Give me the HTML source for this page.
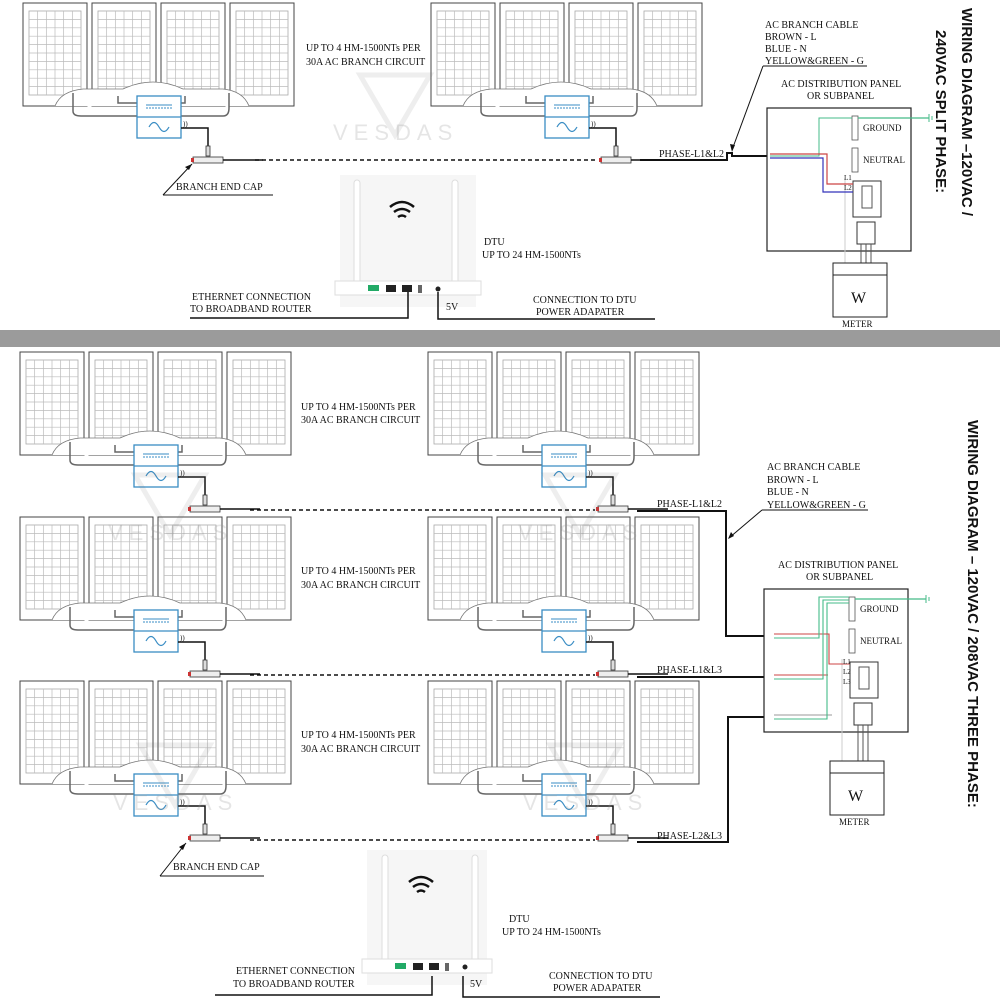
<!DOCTYPE html>
<html><head><meta charset="utf-8">
<style>
html,body{margin:0;padding:0;background:#fff;}
svg{display:block;}
text{font-family:"Liberation Serif",serif;fill:#111;}
.t{font-size:10px;}
.ti{font-family:"Liberation Sans",sans-serif;font-weight:bold;font-size:15px;}
</style></head>
<body>
<svg id="s" width="1000" height="1000" viewBox="0 0 1000 1000" xmlns="http://www.w3.org/2000/svg">
<rect x="0" y="330" width="1000" height="17" fill="#9b9b9b"/>
<g id="g"></g>

<text class="t" x="306" y="51">UP TO 4 HM-1500NTs PER</text>
<text class="t" x="306" y="65">30A AC BRANCH CIRCUIT</text>
<text class="t" x="176" y="190">BRANCH END CAP</text>
<line x1="163" y1="195" x2="273" y2="195" stroke="#111"/>
<line x1="163" y1="195" x2="192" y2="164" stroke="#111"/>
<path d="M192 164 l-7 3 l4 3z" fill="#111"/>
<text class="t" x="484" y="245">DTU</text>
<text class="t" x="482" y="258">UP TO 24 HM-1500NTs</text>
<text class="t" x="192" y="300">ETHERNET CONNECTION</text>
<text class="t" x="190" y="312">TO BROADBAND ROUTER</text>
<text class="t" x="533" y="303">CONNECTION TO DTU</text>
<text class="t" x="536" y="315">POWER ADAPATER</text>
<text class="t" x="446" y="310">5V</text>
<text class="t" x="659" y="157">PHASE-L1&amp;L2</text>
<text class="t" x="765" y="28">AC BRANCH CABLE</text>
<text class="t" x="765" y="40">BROWN - L</text>
<text class="t" x="765" y="52">BLUE - N</text>
<text class="t" x="765" y="64">YELLOW&amp;GREEN - G</text>
<line x1="763" y1="66" x2="867" y2="66" stroke="#111"/>
<line x1="763" y1="66" x2="732" y2="150" stroke="#111"/>
<path d="M732 152 l-2 -8 l5 1z" fill="#111"/>
<text class="t" x="781" y="87">AC DISTRIBUTION PANEL</text>
<text class="t" x="807" y="99">OR SUBPANEL</text>
<text class="ti" transform="translate(962,8) rotate(90)">WIRING DIAGRAM –120VAC /</text>
<text class="ti" transform="translate(936,30) rotate(90)">240VAC SPLIT PHASE:</text>

<text class="t" x="301" y="410">UP TO 4 HM-1500NTs PER</text>
<text class="t" x="301" y="423">30A AC BRANCH CIRCUIT</text>
<text class="t" x="301" y="574">UP TO 4 HM-1500NTs PER</text>
<text class="t" x="301" y="588">30A AC BRANCH CIRCUIT</text>
<text class="t" x="301" y="738">UP TO 4 HM-1500NTs PER</text>
<text class="t" x="301" y="752">30A AC BRANCH CIRCUIT</text>
<text class="t" x="173" y="870">BRANCH END CAP</text>
<line x1="160" y1="876" x2="264" y2="876" stroke="#111"/>
<line x1="160" y1="876" x2="186" y2="843" stroke="#111"/>
<path d="M186 843 l-7 4 l4 3z" fill="#111"/>
<text class="t" x="509" y="922">DTU</text>
<text class="t" x="502" y="935">UP TO 24 HM-1500NTs</text>
<text class="t" x="236" y="974">ETHERNET CONNECTION</text>
<text class="t" x="233" y="987">TO BROADBAND ROUTER</text>
<text class="t" x="549" y="979">CONNECTION TO DTU</text>
<text class="t" x="553" y="991">POWER ADAPATER</text>
<text class="t" x="470" y="987">5V</text>
<text class="t" x="657" y="507">PHASE-L1&amp;L2</text>
<text class="t" x="657" y="673">PHASE-L1&amp;L3</text>
<text class="t" x="657" y="839">PHASE-L2&amp;L3</text>
<text class="t" x="767" y="470">AC BRANCH CABLE</text>
<text class="t" x="767" y="483">BROWN - L</text>
<text class="t" x="767" y="495">BLUE - N</text>
<text class="t" x="767" y="508">YELLOW&amp;GREEN - G</text>
<line x1="762" y1="510" x2="868" y2="510" stroke="#111"/>
<line x1="762" y1="510" x2="729" y2="538" stroke="#111"/>
<path d="M728 539 l3 -7 l3 4z" fill="#111"/>
<text class="t" x="778" y="568">AC DISTRIBUTION PANEL</text>
<text class="t" x="806" y="580">OR SUBPANEL</text>
<text class="ti" transform="translate(968,420) rotate(90)">WIRING DIAGRAM – 120VAC / 208VAC THREE PHASE:</text>
</svg>
<script>
var G=document.getElementById("g"),h="";
function panel(x,y){
 h+='<rect x="'+x+'" y="'+y+'" width="64" height="103" fill="#fff" stroke="#444" stroke-width="1"/>';
 var ix=x+6,iy=y+8,w=52,hh=84;
 h+='<rect x="'+ix+'" y="'+iy+'" width="'+w+'" height="'+hh+'" fill="none" stroke="#aaa" stroke-width="0.8"/>';
 for(var i=1;i<6;i++)h+='<line x1="'+(ix+w*i/6)+'" y1="'+iy+'" x2="'+(ix+w*i/6)+'" y2="'+(iy+hh)+'" stroke="#bbb" stroke-width="0.7"/>';
 for(var j=1;j<10;j++)h+='<line x1="'+ix+'" y1="'+(iy+hh*j/10)+'" x2="'+(ix+w)+'" y2="'+(iy+hh*j/10)+'" stroke="#bbb" stroke-width="0.7"/>';
}
function group(x0,y0){
 for(var k=0;k<4;k++)panel(x0+k*69,y0);
 h+='<path d="M'+(x0+32)+' '+(y0+103)+' Q'+(x0+38)+' '+(y0+88)+' '+(x0+60)+' '+(y0+86)+' L'+(x0+100)+' '+(y0+86)+' Q'+(x0+130)+' '+(y0+72)+' '+(x0+160)+' '+(y0+86)+' L'+(x0+200)+' '+(y0+86)+' Q'+(x0+220)+' '+(y0+88)+' '+(x0+226)+' '+(y0+103)+'" fill="#fff" stroke="#777" stroke-width="0.8"/>';
 h+='<path d="M'+(x0+50)+' '+(y0+90)+' L'+(x0+50)+' '+(y0+108)+' Q'+(x0+50)+' '+(y0+113)+' '+(x0+58)+' '+(y0+113)+' L'+(x0+200)+' '+(y0+113)+' Q'+(x0+206)+' '+(y0+113)+' '+(x0+206)+' '+(y0+105)+' L'+(x0+206)+' '+(y0+90)+'" fill="none" stroke="#666" stroke-width="1.5"/>';
 h+='<path d="M'+(x0+95)+' '+(y0+93)+' L'+(x0+95)+' '+(y0+100)+' L'+(x0+162)+' '+(y0+100)+' L'+(x0+162)+' '+(y0+93)+'" fill="none" stroke="#666" stroke-width="1.5"/>';
 var bx=x0+114,by=y0+93;
 h+='<rect x="'+bx+'" y="'+by+'" width="44" height="42" fill="#fff" stroke="#3a8dc4" stroke-width="1.3"/>';
 h+='<line x1="'+bx+'" y1="'+(by+21)+'" x2="'+(bx+44)+'" y2="'+(by+21)+'" stroke="#3a8dc4" stroke-width="1.3"/>';
 h+='<line x1="'+(bx+9)+'" y1="'+(by+9)+'" x2="'+(bx+35)+'" y2="'+(by+9)+'" stroke="#3a8dc4"/><line x1="'+(bx+9)+'" y1="'+(by+12)+'" x2="'+(bx+35)+'" y2="'+(by+12)+'" stroke="#3a8dc4" stroke-dasharray="2 1"/>';
 h+='<path d="M'+(bx+12)+' '+(by+31)+' q5 -9 10 0 t10 0" fill="none" stroke="#3a8dc4" stroke-width="1.2"/>';
 h+='<text x="'+(bx+46)+'" y="'+(by+30)+'" style="font-size:7px">))</text>';
 var tx=x0+185,ty=y0+157;
 h+='<path d="M'+(bx+44)+' '+(by+32)+' L'+tx+' '+(by+32)+' L'+tx+' '+(ty-6)+'" fill="none" stroke="#111" stroke-width="1.5"/>';
 h+='<rect x="'+(tx-2)+'" y="'+(ty-14)+'" width="4" height="10" fill="#ddd" stroke="#333" stroke-width="0.8"/>';
 h+='<rect x="'+(tx-15)+'" y="'+(ty-3)+'" width="30" height="6" fill="#eee" stroke="#333" stroke-width="0.8"/>';
 h+='<rect x="'+(tx-17)+'" y="'+(ty-2)+'" width="3" height="4" fill="#c33"/>';
 h+='<line x1="'+(tx+15)+'" y1="'+ty+'" x2="'+(tx+55)+'" y2="'+ty+'" stroke="#111" stroke-width="1.5"/>';
}
function watermark(x,y){
 h+='<g opacity="0.12" fill="none" stroke="#777" stroke-width="5"><path d="M'+(x-35)+' '+(y-45)+' L'+x+' '+(y+15)+' L'+(x+35)+' '+(y-45)+'z"/></g>';
 h+='<text x="'+(x-62)+'" y="'+(y+20)+'" style="font-family:Liberation Sans,sans-serif;font-size:22px;letter-spacing:6px;fill:#999;opacity:0.25">VESDAS</text>';
}
var rows=[[3,160],[352,510],[517,675],[681,840]];
rows.forEach(function(r,i){
 var y0=r[0],dy=r[1];
 group(i==0?23:20,y0);group(i==0?431:428,y0);
 h+='<line x1="'+(i==0?255:250)+'" y1="'+dy+'" x2="'+(i==0?598:595)+'" y2="'+dy+'" stroke="#111" stroke-width="1.5" stroke-dasharray="4 3"/>';
});
h+='<path d="M640 160 L727 160 L727 153 L732 153 L732 156 L770 156" fill="none" stroke="#111" stroke-width="2"/>';
h+='<path d="M637 511 L726 511 L726 636 L780 636" fill="none" stroke="#111" stroke-width="2"/>';
h+='<path d="M637 677 L780 677" fill="none" stroke="#111" stroke-width="2"/>';
h+='<path d="M637 842 L728 842 L728 717 L780 717" fill="none" stroke="#111" stroke-width="2"/>';
function dtu(x,y,w,hgt,a1,a2){
 h+='<rect x="'+x+'" y="'+y+'" width="'+w+'" height="'+hgt+'" fill="#f6f6f6"/>';
 h+='<rect x="'+(a1-3)+'" y="'+(y+5)+'" width="6" height="'+(hgt-20)+'" rx="3" fill="#fff" stroke="#ddd"/>';
 h+='<rect x="'+(a2-3)+'" y="'+(y+5)+'" width="6" height="'+(hgt-20)+'" rx="3" fill="#fff" stroke="#ddd"/>';
 var cx=x+w/2-6,cy=y+32;
 h+='<path d="M'+(cx-12)+' '+cy+' q12 -10 24 0 M'+(cx-8)+' '+(cy+5)+' q8 -6 16 0 M'+(cx-4)+' '+(cy+10)+' q4 -3 8 0" fill="none" stroke="#111" stroke-width="2.5"/>';
 var py=y+hgt-22;
 h+='<rect x="'+(x-5)+'" y="'+(py-4)+'" width="'+(w+10)+'" height="14" fill="#fff" stroke="#ddd"/>';
 h+='<rect x="'+(x+28)+'" y="'+py+'" width="11" height="6" fill="#2a6"/>';
 h+='<rect x="'+(x+46)+'" y="'+py+'" width="10" height="7" fill="#222"/>';
 h+='<rect x="'+(x+62)+'" y="'+py+'" width="10" height="7" fill="#222"/>';
 h+='<rect x="'+(x+78)+'" y="'+py+'" width="4" height="8" fill="#666"/>';
 h+='<circle cx="'+(x+98)+'" cy="'+(py+4)+'" r="2.5" fill="#222"/>';
}
dtu(340,175,136,132,357,455);
dtu(367,850,120,135,385,475);
h+='<path d="M190 318 L408 318 L408 292" fill="none" stroke="#111" stroke-width="1.5"/>';
h+='<path d="M438 292 L438 319 L655 319" fill="none" stroke="#111" stroke-width="1.5"/>';
h+='<path d="M215 995 L432 995 L432 976" fill="none" stroke="#111" stroke-width="1.5"/>';
h+='<path d="M463 976 L463 997 L660 997" fill="none" stroke="#111" stroke-width="1.5"/>';
watermark(395,120);watermark(170,520);watermark(580,520);watermark(175,790);watermark(585,790);
function dist(x,y,three,mo){
 h+='<rect x="'+x+'" y="'+y+'" width="144" height="143" fill="#fff" stroke="#222" stroke-width="1.2"/>';
 h+='<rect x="'+(x+85)+'" y="'+(y+8)+'" width="6" height="24" fill="#fff" stroke="#555" stroke-width="0.8"/>';
 h+='<rect x="'+(x+85)+'" y="'+(y+40)+'" width="6" height="24" fill="#fff" stroke="#555" stroke-width="0.8"/>';
 h+='<text x="'+(x+96)+'" y="'+(y+23)+'" style="font-size:9px">GROUND</text>';
 h+='<text x="'+(x+96)+'" y="'+(y+55)+'" style="font-size:9px">NEUTRAL</text>';
 h+='<line x1="'+(x+91)+'" y1="'+(y+10)+'" x2="'+(x+162)+'" y2="'+(y+10)+'" stroke="#4b8" stroke-width="1.2"/>';
 h+='<path d="M'+(x+162)+' '+(y+6)+' v8 M'+(x+165)+' '+(y+8)+' v4" stroke="#4b8"/>';
 h+='<rect x="'+(x+86)+'" y="'+(y+73)+'" width="28" height="36" fill="#fff" stroke="#333"/>';
 h+='<rect x="'+(x+95)+'" y="'+(y+78)+'" width="10" height="22" fill="#fff" stroke="#555"/>';
 h+='<rect x="'+(x+90)+'" y="'+(y+114)+'" width="18" height="22" fill="#fff" stroke="#333"/>';
 [94,99,104].forEach(function(d){h+='<line x1="'+(x+d)+'" y1="'+(y+136)+'" x2="'+(x+d)+'" y2="'+(y+mo)+'" stroke="#555"/>';});
 h+='<line x1="'+(x+78)+'" y1="'+(y+70)+'" x2="'+(x+78)+'" y2="'+(y+mo)+'" stroke="#ccc"/>';
 h+='<rect x="'+(x+66)+'" y="'+(y+mo)+'" width="54" height="54" fill="#fff" stroke="#222"/>';
 h+='<line x1="'+(x+66)+'" y1="'+(y+mo+12)+'" x2="'+(x+120)+'" y2="'+(y+mo+12)+'" stroke="#222"/>';
 h+='<text x="'+(x+84)+'" y="'+(y+mo+40)+'" style="font-size:16px">W</text>';
 h+='<text x="'+(x+75)+'" y="'+(y+mo+64)+'" style="font-size:9px">METER</text>';
 if(!three){
  h+='<path d="M'+(x+3)+' '+(y+48)+' L'+(x+52)+' '+(y+48)+' L'+(x+52)+' '+(y+10)+' L'+(x+85)+' '+(y+10)+'" fill="none" stroke="#4b8"/>';
  h+='<path d="M'+(x+3)+' '+(y+46)+' L'+(x+60)+' '+(y+46)+' L'+(x+60)+' '+(y+76)+' L'+(x+86)+' '+(y+76)+'" fill="none" stroke="#c44" stroke-width="1.2"/>';
  h+='<path d="M'+(x+3)+' '+(y+50)+' L'+(x+56)+' '+(y+50)+' L'+(x+56)+' '+(y+84)+' L'+(x+86)+' '+(y+84)+'" fill="none" stroke="#33b" stroke-width="1.2"/>';
  h+='<text x="'+(x+77)+'" y="'+(y+72)+'" style="font-size:7px">L1</text><text x="'+(x+77)+'" y="'+(y+82)+'" style="font-size:7px">L2</text>';
 } else {
  [y+47,y+88,y+128].forEach(function(yy,i){
   h+='<path d="M'+(x+10)+' '+(yy-2)+' L'+(x+60+i*4)+' '+(yy-2)+'" fill="none" stroke="'+(i<2?'#c44':'#999')+'" stroke-width="1.1"/>';
   h+='<path d="M'+(x+10)+' '+(yy+2)+' L'+(x+55+i*4)+' '+(yy+2)+' L'+(x+55+i*4)+' '+(y+8+i*3)+' L'+(x+85)+' '+(y+8+i*3)+'" fill="none" stroke="#4b8" stroke-width="1.1"/>';
  });
  h+='<path d="M'+(x+60)+' '+(y+45)+' L'+(x+65)+' '+(y+45)+' L'+(x+65)+' '+(y+75)+' L'+(x+86)+' '+(y+75)+'" fill="none" stroke="#c44" stroke-width="1.1"/>';
  h+='<text x="'+(x+79)+'" y="'+(y+75)+'" style="font-size:7px">L1</text><text x="'+(x+79)+'" y="'+(y+85)+'" style="font-size:7px">L2</text><text x="'+(x+79)+'" y="'+(y+95)+'" style="font-size:7px">L3</text>';
 }
}
dist(767,108,false,155);
dist(764,589,true,172);
G.innerHTML=h;
</script>
</body></html>
